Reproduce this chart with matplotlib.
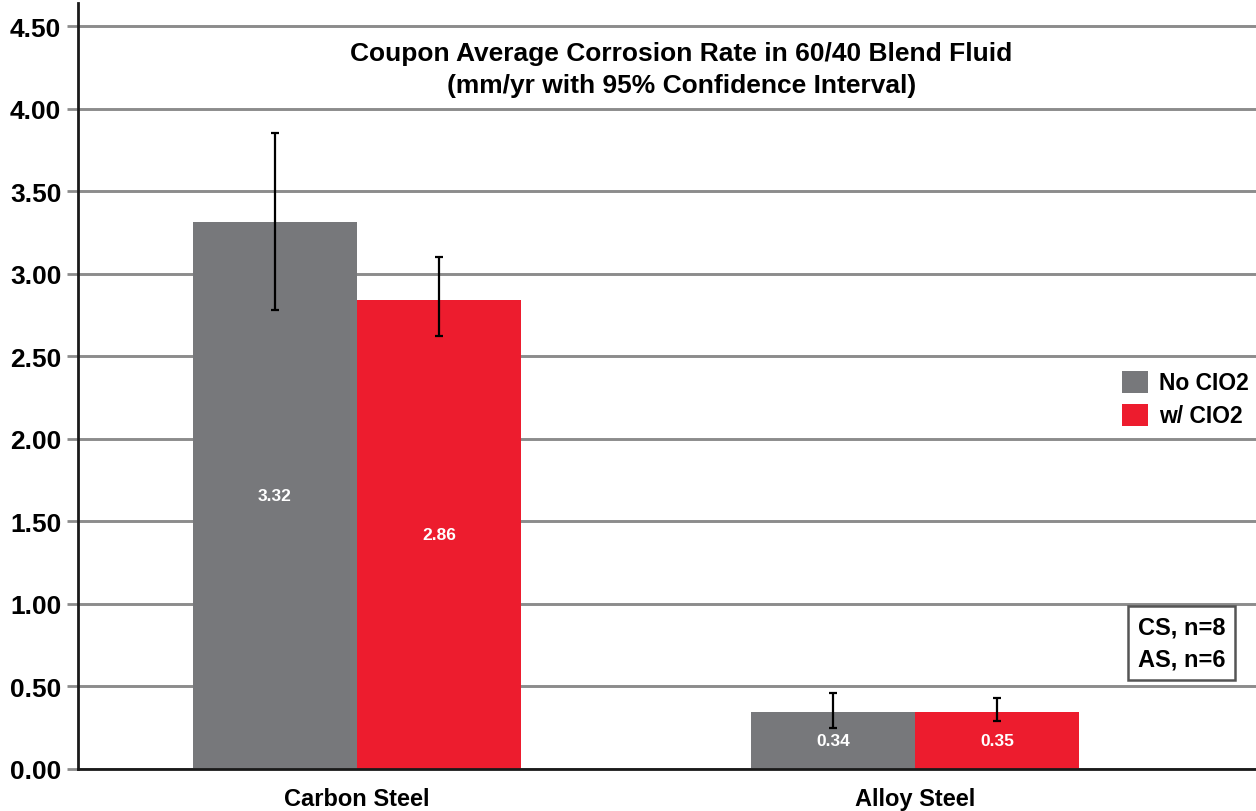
import numpy as np
from matplotlib import pyplot as plt

# data
categories = ["Carbon Steel", "Alloy Steel"]
legend_labels = ["No CIO2", "w/ CIO2"]
no_clo2 = [3.315, 0.345]
w_clo2 = [2.84, 0.345]
no_clo2_text = ["3.32", "0.34"]
w_clo2_text = ["2.86", "0.35"]
no_clo2_lo = [2.78, 0.25]
no_clo2_hi = [3.85, 0.46]
w_clo2_lo = [2.62, 0.29]
w_clo2_hi = [3.10, 0.43]
yticks = [0.0, 0.5, 1.0, 1.5, 2.0, 2.5, 3.0, 3.5, 4.0, 4.5]

plt.rcParams['font.family'] = ['Liberation Sans', 'DejaVu Sans']
plt.rcParams['font.weight'] = 'bold'

fig = plt.figure(figsize=(12.56, 8.12), dpi=100)
ax = fig.add_axes([78/1256, 1-770/812, 1-78/1256, 766/812])

x = np.arange(len(categories))
w = 0.294
gray = "#77787b"
red = "#ed1c2e"

def yerr(vals, lo, hi):
    return np.array([np.subtract(vals, lo), np.subtract(hi, vals)])

ekw = dict(ecolor="black", elinewidth=1.6, capsize=3, capthick=1.6, zorder=3)
b1 = ax.bar(x - w/2, no_clo2, w, color=gray, label=legend_labels[0], zorder=2,
            yerr=yerr(no_clo2, no_clo2_lo, no_clo2_hi), error_kw=ekw)
b2 = ax.bar(x + w/2, w_clo2, w, color=red, label=legend_labels[1], zorder=2,
            yerr=yerr(w_clo2, w_clo2_lo, w_clo2_hi), error_kw=ekw)

# value labels in the middle of each bar
for bars, vals, txt in [(b1, no_clo2, no_clo2_text), (b2, w_clo2, w_clo2_text)]:
    for rect, v, s in zip(bars, vals, txt):
        ax.text(rect.get_x() + rect.get_width()/2, v/2, s,
                ha="center", va="center", color="white", fontsize=12.5,
                fontweight="bold", zorder=4)

ax.set_xlim(-0.5, 1.611)
ax.set_ylim(0, 4.64)
ax.set_yticks(yticks)
ax.set_yticklabels(["%.2f" % t for t in yticks], fontsize=19, fontweight="bold")
ax.set_xticks(x)
ax.set_xticklabels(categories, fontsize=17, fontweight="bold")
ax.tick_params(axis="x", length=0, pad=13)
ax.tick_params(axis="y", length=8, width=2, color="#8c8c8c", pad=4)

ax.grid(axis="y", color="#8c8c8c", linewidth=2.1, zorder=0)
ax.set_axisbelow(True)
for s in ["top", "right"]:
    ax.spines[s].set_visible(False)
for s in ["left", "bottom"]:
    ax.spines[s].set_linewidth(2)
    ax.spines[s].set_color("#1a1a1a")
    ax.spines[s].set_zorder(5)

ax.text(0.512, 0.914, "Coupon Average Corrosion Rate in 60/40 Blend Fluid\n(mm/yr with 95% Confidence Interval)",
        transform=ax.transAxes, ha="center", va="center", fontsize=19,
        fontweight="bold", linespacing=1.45)

leg = ax.legend(loc="center right", bbox_to_anchor=(1.0076, 0.483), frameon=False,
                fontsize=16.5, handlelength=1.1, handleheight=1.1, handletextpad=0.5,
                labelspacing=0.4, borderaxespad=0.3)
for t in leg.get_texts():
    t.set_fontweight("bold")

ax.text(0.937, 0.1645, "CS, n=8\nAS, n=6", transform=ax.transAxes, ha="center",
        va="center", fontsize=17, fontweight="bold", linespacing=1.45,
        bbox=dict(boxstyle="square,pad=0.42", facecolor="white",
                  edgecolor="#555555", linewidth=1.8), zorder=6)

fig.savefig("out.png", dpi=100)
